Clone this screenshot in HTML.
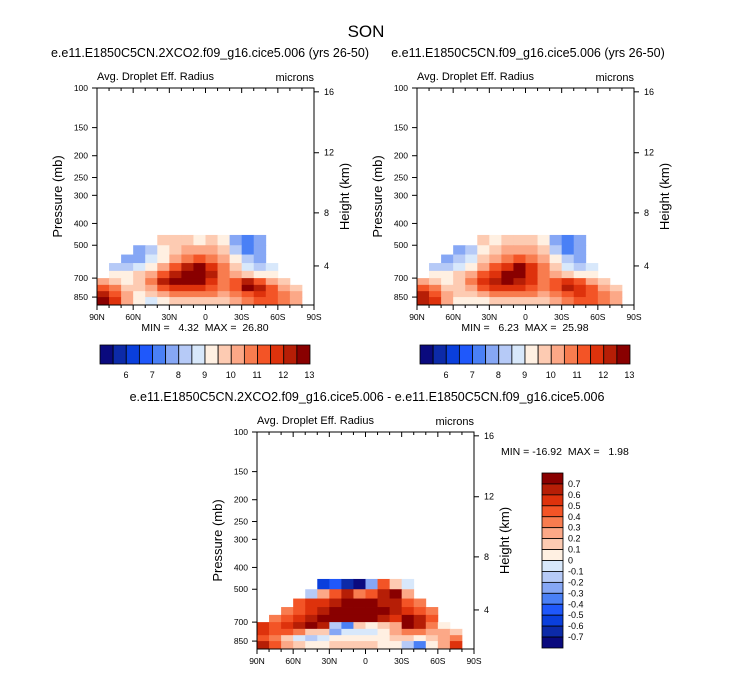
<!DOCTYPE html>
<html><head><meta charset="utf-8"><style>
body{margin:0;background:#fff}
svg{display:block;font-family:"Liberation Sans",Arial,sans-serif}
.pre{white-space:pre}
</style></head><body>
<svg id="c" width="733" height="673" viewBox="0 0 733 673" xmlns="http://www.w3.org/2000/svg">
<text x="366" y="37" font-size="17" text-anchor="middle">SON</text>
</svg>
<script>
// ---------- data ----------
const latEdges = [90,80,70,60,50,40,30,20,10,0,-10,-20,-30,-40,-50,-60,-70,-80,-90];
const presTop = [450,500,550,600,650,700,750,800,850];
const presBot = [500,550,600,650,700,750,800,850,925];
const pressureTicks = [100,150,200,250,300,400,500,700,850];
const heightTicks = [16,12,8,4];
const heightTickP = [104,194,359,618];
const latTickLabels = ["90N","60N","30N","0","30S","60S","90S"];
const latTicks = [90,60,30,0,-30,-60,-90];
const fillColors = ["#0a0a7e","#0c2aa8","#0a3fdc","#1f58fb","#4a80f6","#86a7f5","#b6caf7","#d8e8fb","#fff0e2","#fdcbb2","#fca887","#f87c4f","#f35426","#de320c","#b61e06","#890000"];
const barLabels1 = ["6","7","8","9","10","11","12","13"];
const barLabels3 = ["0.7","0.6","0.5","0.4","0.3","0.2","0.1","0","-0.1","-0.2","-0.3","-0.4","-0.5","-0.6","-0.7"];
const N = null;
const grid1 = [
[N,N,N,N,N,9,9,9,8,9,8,5,4,5,N,N,N,N],
[N,N,N,5,6,8,9,10,10,10,9,6,4,5,N,N,N,N],
[N,N,5,5,7,8,10,11,12,11,10,8,6,5,N,N,N,N],
[N,6,6,7,8,10,12,14,15,13,11,9,7,6,7,N,N,N],
[N,8,8,9,10,12,14,15,15,14,11,10,9,8,8,N,N,N],
[10,9,8,9,11,14,15,15,15,13,11,12,14,12,10,9,N,N],
[12,11,9,9,10,12,13,13,13,12,11,12,15,14,12,10,9,N],
[14,12,10,8,9,10,11,11,11,11,10,11,12,13,12,11,10,N],
[15,13,10,8,7,8,9,9,9,9,9,10,11,12,12,11,10,N]];
const grid2 = [
[N,N,N,N,N,9,8,9,9,9,8,5,4,5,N,N,N,N],
[N,N,N,5,6,8,9,10,10,10,9,6,4,5,N,N,N,N],
[N,N,5,6,7,9,10,11,12,11,10,8,6,5,N,N,N,N],
[N,6,6,7,8,10,12,13,15,13,11,9,7,6,7,N,N,N],
[N,8,8,9,10,12,13,15,15,13,11,10,9,8,8,N,N,N],
[10,9,8,9,11,13,14,15,14,13,11,12,13,12,10,9,N,N],
[12,11,9,9,10,12,13,13,13,12,11,12,14,13,12,10,9,N],
[14,12,10,9,9,10,11,11,11,11,10,11,12,13,12,11,10,N],
[14,13,10,8,8,8,9,9,9,9,9,10,11,12,12,11,10,N]];
const grid3 = [
[N,N,N,N,N,2,3,1,0,5,12,9,7,N,N,N,N,N],
[N,N,N,N,6,10,12,14,11,12,14,15,10,N,N,N,N,N],
[N,N,N,12,13,13,14,15,15,15,14,14,12,11,N,N,N,N],
[N,N,11,12,13,14,15,15,15,15,15,14,13,12,11,N,N,N],
[N,11,12,13,14,15,15,15,15,15,14,13,15,14,12,N,N,N],
[13,12,13,14,15,14,6,4,9,8,9,10,15,14,11,8,N,N],
[13,12,12,11,9,9,5,7,7,7,8,10,11,11,10,10,9,N],
[12,11,9,7,6,7,8,8,8,8,8,9,9,8,9,10,11,N],
[14,12,10,9,8,8,9,9,9,9,8,8,6,4,8,10,13,N]];

// ---------- drawing ----------
const svg = document.getElementById('c');
const NS = "http://www.w3.org/2000/svg";
function mk(tag, attrs, txt){const e=document.createElementNS(NS,tag);for(const k in attrs)e.setAttribute(k,attrs[k]);if(txt!==undefined)e.textContent=txt;svg.appendChild(e);return e;}
const W=217, H=217, K=97.7;

function panel(ox, oy, grid, subtitle, sx, name){
  const xs = lat => ox + (90-lat)/180*W;
  const ys = p => oy + K*Math.log(p/100);
  let t=mk('text',{x:sx,y:oy-31,'font-size':12.5,'text-anchor':'middle'},subtitle);
  
  
  t=mk('text',{x:ox,y:oy-8,'font-size':11},'Avg. Droplet Eff. Radius');
  
  
  t=mk('text',{x:ox+W,y:oy-7,'font-size':11,'text-anchor':'end'},'microns');
  
  
  for(let r=0;r<grid.length;r++){
    for(let c=0;c<grid[r].length;c++){
      const v=grid[r][c]; if(v===null) continue;
      const x0=xs(latEdges[c]), x1=xs(latEdges[c+1]);
      const y0=ys(presTop[r]), y1=Math.min(ys(presBot[r]),oy+H);
      const re=mk('rect',{x:x0,y:y0,width:x1-x0+0.4,height:y1-y0+0.4,fill:fillColors[v]});
      
      
    }
  }
  const fr=mk('rect',{x:ox,y:oy,width:W,height:H,fill:'none',stroke:'#000','stroke-width':1});
  
  
  pressureTicks.forEach(p=>{
    const y=ys(p);
    mk('line',{x1:ox-5,y1:y,x2:ox,y2:y,stroke:'#000'});
    const l=mk('text',{x:ox-9,y:y+3,'font-size':8.5,'text-anchor':'end'},String(p));
    
    
  });
  heightTicks.forEach((h,i)=>{
    const y=ys(heightTickP[i]);
    mk('line',{x1:ox+W,y1:y,x2:ox+W+5,y2:y,stroke:'#000'});
    const l=mk('text',{x:ox+W+10,y:y+3,'font-size':9},String(h));
    
    
  });
  latTicks.forEach((la,i)=>{
    const x=xs(la);
    mk('line',{x1:x,y1:oy+H,x2:x,y2:oy+H+5,stroke:'#000'});
    mk('line',{x1:x,y1:oy,x2:x,y2:oy+5,stroke:'#000'});
    const l=mk('text',{x:x,y:oy+H+15,'font-size':8.5,'text-anchor':'middle'},latTickLabels[i]);
    
    
  });
  for(let la=80;la>-90;la-=10){ if(la%30===0) continue; const x=xs(la);
    mk('line',{x1:x,y1:oy+H,x2:x,y2:oy+H+3,stroke:'#000'});
    mk('line',{x1:x,y1:oy,x2:x,y2:oy+3,stroke:'#000'}); }
  t=mk('text',{x:0,y:0,'font-size':13,'text-anchor':'middle',transform:`translate(${ox-35},${oy+H/2}) rotate(-90)`},'Pressure (mb)');
  
  
  t=mk('text',{x:0,y:0,'font-size':13,'text-anchor':'middle',transform:`translate(${ox+W+35},${oy+H/2}) rotate(-90)`},'Height (km)');
  
  
}
function hbar(x0,y0,name){
  const bw=210/16;
  fillColors.forEach((c,i)=>{
    const r=mk('rect',{x:x0+i*bw,y:y0,width:bw,height:19,fill:c,stroke:'#000','stroke-width':0.8});
    
    
  });
  barLabels1.forEach((s,i)=>{
    const l=mk('text',{x:x0+26+i*26.2,y:y0+33,'font-size':9,'text-anchor':'middle'},s);
    
    
  });
}
panel(97,88,grid1,'e.e11.E1850C5CN.2XCO2.f09_g16.cice5.006 (yrs 26-50)',210,'panel-2xco2');
panel(417,88,grid2,'e.e11.E1850C5CN.f09_g16.cice5.006 (yrs 26-50)',528,'panel-control');
panel(257,432,grid3,'e.e11.E1850C5CN.2XCO2.f09_g16.cice5.006 - e.e11.E1850C5CN.f09_g16.cice5.006',367,'panel-difference');
hbar(100,345,'colorbar-2xco2');
hbar(420,345,'colorbar-control');
let m=mk('text',{x:205,y:331,'font-size':10.5,'text-anchor':'middle','class':'pre'},'MIN =   4.32  MAX =  26.80');


m=mk('text',{x:525,y:331,'font-size':10.5,'text-anchor':'middle','class':'pre'},'MIN =   6.23  MAX =  25.98');


m=mk('text',{x:501,y:455,'font-size':10.5,'class':'pre'},'MIN = -16.92  MAX =   1.98');


const vh=175/16;
for(let i=0;i<16;i++){
  const r=mk('rect',{x:542,y:473+i*vh,width:21,height:vh,fill:fillColors[15-i],stroke:'#000','stroke-width':0.8});
  
  
}
barLabels3.forEach((s,i)=>{
  const l=mk('text',{x:568,y:473+(i+1)*vh+3,'font-size':9},s);
  
  
});
</script>
</body></html>
